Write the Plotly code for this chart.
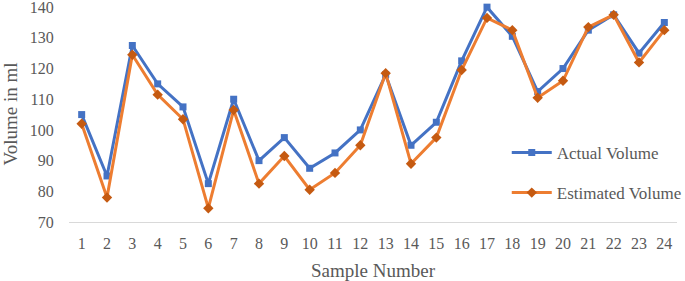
import plotly.graph_objects as go

samples = [str(i) for i in range(1, 25)]
actual_volume = [105, 85, 127.5, 115, 107.5, 82.5, 110, 90, 97.5, 87.5, 92.5, 100,
                 118, 95, 102.5, 122.5, 140, 130.5, 112.5, 120, 132.5, 137.5, 125, 135]
estimated_volume = [102, 78, 124.5, 111.5, 103.5, 74.5, 106.5, 82.5, 91.5, 80.5, 86, 95,
                    118.5, 89, 97.5, 119.5, 136.5, 132.5, 110.5, 116, 133.5, 137.5, 122, 132.5]
y_ticks = [70, 80, 90, 100, 110, 120, 130, 140]

FONT = "Liberation Serif, Times New Roman, serif"
GRAY = "#595959"

fig = go.Figure()
fig.add_trace(go.Scatter(
    x=samples, y=actual_volume, name="Actual Volume", mode="lines+markers",
    line=dict(color="#4472C4", width=3),
    marker=dict(symbol="square", size=7, color="#4472C4"),
    legendgroup="a", cliponaxis=False,
))
fig.add_trace(go.Scatter(
    x=samples, y=estimated_volume, name="Estimated Volume", mode="lines+markers",
    line=dict(color="#ED7D31", width=3),
    marker=dict(symbol="diamond", size=8, color="#C55A11"),
    legendgroup="b", cliponaxis=False,
))

fig.update_layout(
    width=685, height=281,
    margin=dict(l=69, r=8, t=7, b=59, autoexpand=False),
    paper_bgcolor="white", plot_bgcolor="white",
    font=dict(family=FONT, color=GRAY, size=16),
    showlegend=True,
    legend=dict(
        x=0.72, y=0.405, xanchor="left", yanchor="top",
        font=dict(family=FONT, size=17, color=GRAY),
        bgcolor="rgba(0,0,0,0)", traceorder="grouped", tracegroupgap=15,
        itemwidth=40,
    ),
    xaxis=dict(
        type="category", range=[-0.5, 23.5], showgrid=False, showline=True,
        linecolor="#D9D9D9", linewidth=1,
        ticks="outside", ticklen=7, tickcolor="rgba(0,0,0,0)", automargin=False,
        tickfont=dict(family=FONT, size=16, color=GRAY),
        zeroline=False,
    ),
    yaxis=dict(
        range=[70, 140.05], tickvals=y_ticks, showgrid=False, showline=False, zeroline=False,
        ticks="outside", ticklen=11, tickcolor="rgba(0,0,0,0)", automargin=False,
        ticklabeloverflow="allow",
        tickfont=dict(family=FONT, size=16, color=GRAY),
    ),
    annotations=[
        dict(text="Sample Number", xref="paper", yref="paper", x=0.5, y=0,
             xanchor="center", yanchor="middle", yshift=-48, showarrow=False,
             font=dict(family=FONT, size=19, color=GRAY)),
        dict(text="Volume in ml", xref="paper", yref="paper", x=0, y=0.5,
             xanchor="center", yanchor="middle", xshift=-59, textangle=-90, showarrow=False,
             font=dict(family=FONT, size=19, color=GRAY)),
    ],
)

fig.write_html("out.html", config={"displayModeBar": False},
               post_script="document.body.style.margin='0';")
